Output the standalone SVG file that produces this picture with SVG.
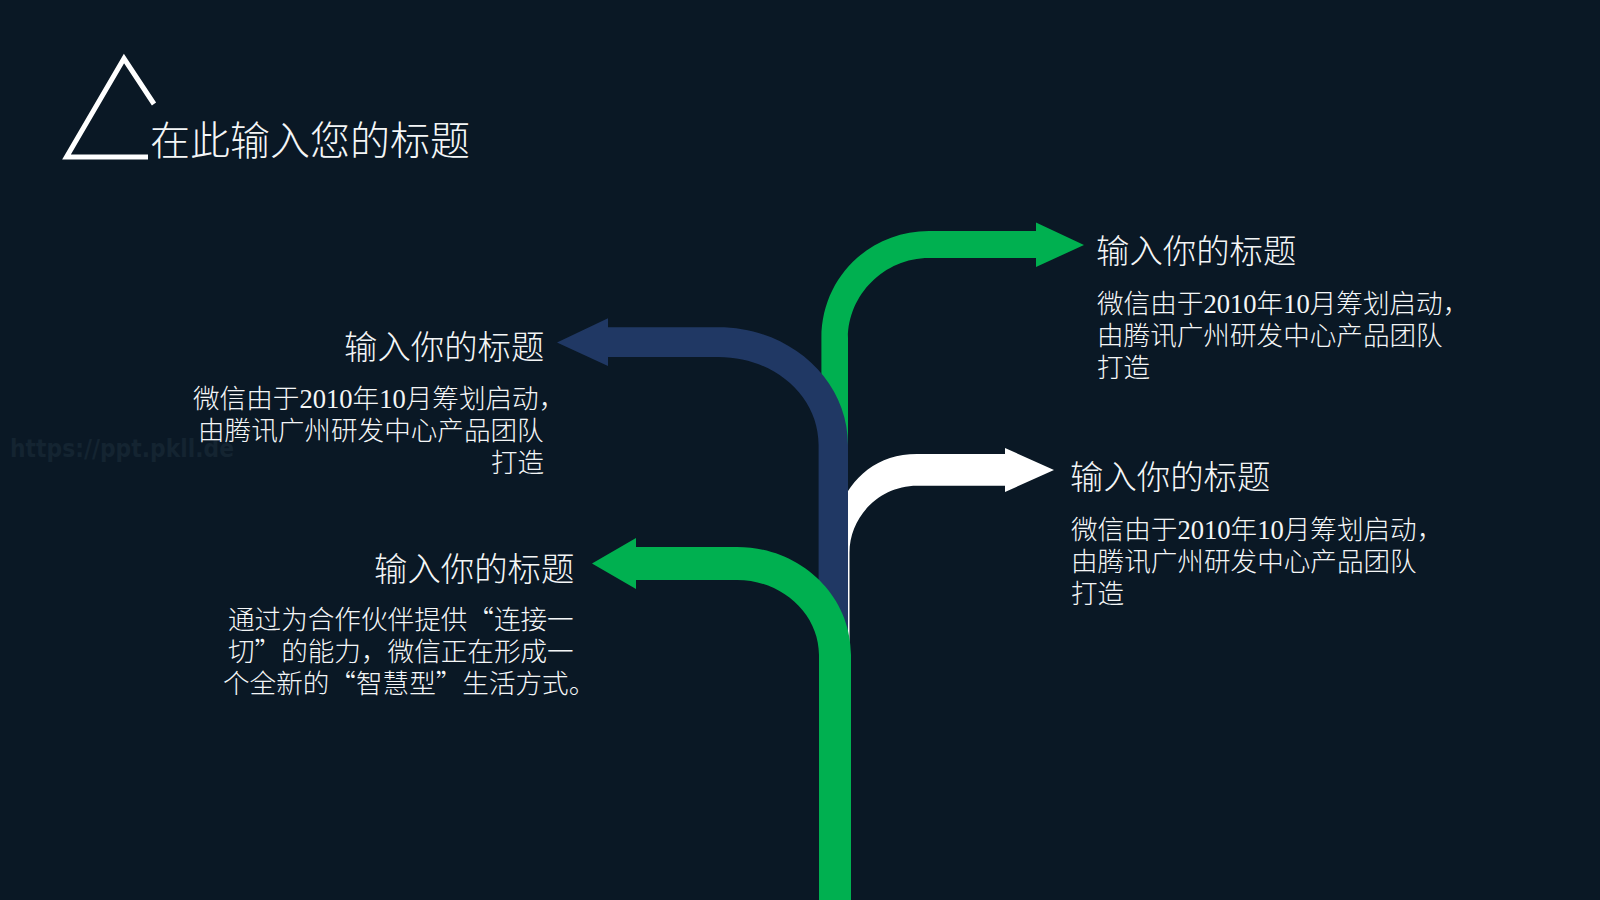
<svg xmlns="http://www.w3.org/2000/svg" width="1600" height="900" viewBox="0 0 1600 900">
<defs><style>
.t{font-family:"Noto Sans CJK SC","Liberation Sans",sans-serif;fill:#f4f6f7;font-weight:300}
.h{font-size:33.4px}
.b{font-size:26.6px}
.n{font-family:"Liberation Serif",serif}
.g{fill:#00b050}
.w{fill:none;stroke:#fff;stroke-width:5}
</style></defs>
<rect width="1600" height="900" fill="#0a1825"/>
<text x="10" y="457" font-family="DejaVu Sans, sans-serif" font-weight="bold" font-size="24" fill="#142431" textLength="224" lengthAdjust="spacingAndGlyphs">https://ppt.pkll.de</text>
<g id="connectors">
<path id="arrow-top-right" class="g" d="M821.4 460V338C821.4 278 869 231 929 231H1036V222.5L1084 245L1036 267V258H929C884 258 848 295 848 338V460Z"/>
<path id="arrow-mid-right" fill="#fff" d="M830 650V560C830 502 860 454 917 454H1005V448L1054 470L1005 492V485.7H917C880 485.7 849.5 516 849.5 553V650Z"/>
<path id="arrow-top-left" fill="#203864" d="M818.6 640V445C818.6 396 774 357 718.6 357H608V366L557 342.5L608 318.3V327.3H718.6C790 327.3 848 380 848 445V640Z"/>
<path id="arrow-bottom-left" class="g" d="M819 900V655C819 614 782 580 737 580H636V589L592 563.5L636 538V547H737C800 547 851 595 851 655V900Z"/>
</g>
<g id="title">
<path class="w" d="M148 157H66.5L124 58.5L154 104"/>
<text class="t" x="150" y="155" font-size="40">在此输入您的标题</text>
</g>
<g id="node-top-right">
<text class="t h" x="1096" y="263">输入你的标题</text>
<text class="t b"><tspan x="1097" y="313">微信由于<tspan class="n">2010</tspan>年<tspan class="n">10</tspan>月筹划启动，</tspan><tspan x="1097" y="345">由腾讯广州研发中心产品团队</tspan><tspan x="1097" y="377">打造</tspan></text>
</g>
<g id="node-top-left">
<text class="t h" x="344" y="359">输入你的标题</text>
<text class="t b"><tspan x="193" y="408">微信由于<tspan class="n">2010</tspan>年<tspan class="n">10</tspan>月筹划启动，</tspan><tspan x="198" y="440">由腾讯广州研发中心产品团队</tspan><tspan x="491" y="472">打造</tspan></text>
</g>
<g id="node-mid-right">
<text class="t h" x="1070" y="489">输入你的标题</text>
<text class="t b"><tspan x="1071" y="539">微信由于<tspan class="n">2010</tspan>年<tspan class="n">10</tspan>月筹划启动，</tspan><tspan x="1071" y="571">由腾讯广州研发中心产品团队</tspan><tspan x="1071" y="603">打造</tspan></text>
</g>
<g id="node-bottom-left">
<text class="t h" x="374" y="581">输入你的标题</text>
<text class="t b"><tspan x="228" y="629">通过为合作伙伴提供“连接一</tspan><tspan x="228" y="661">切”的能力，微信正在形成一</tspan><tspan x="223" y="693">个全新的“智慧型”生活方式。</tspan></text>
</g>
</svg>
